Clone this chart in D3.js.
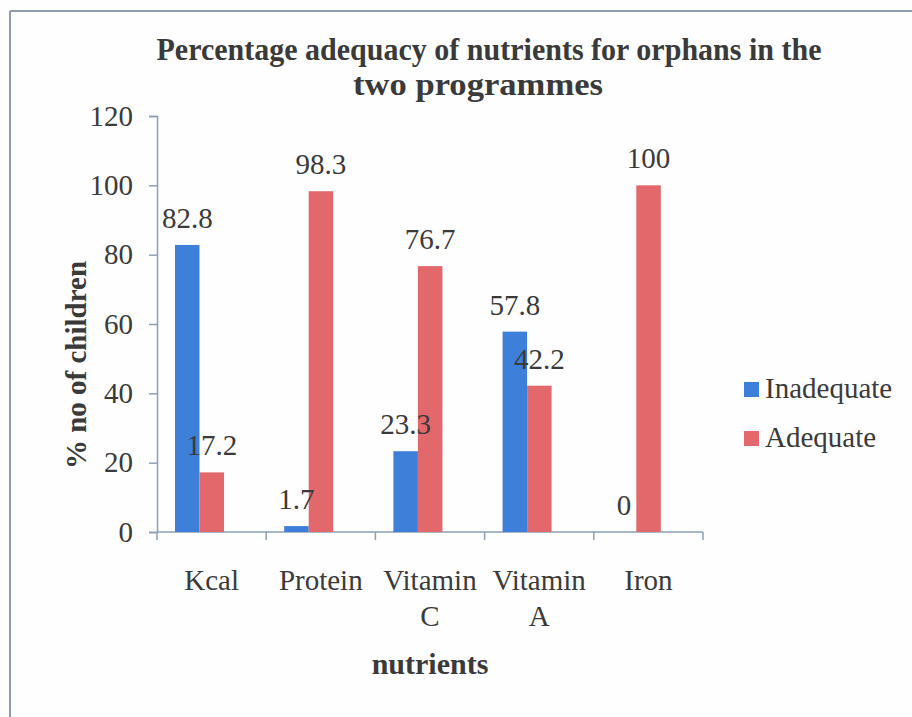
<!DOCTYPE html>
<html>
<head>
<meta charset="utf-8">
<script src="https://cdn.jsdelivr.net/npm/d3@7"></script>
<style>
  body { margin: 0; background: #fefefe; }
</style>
</head>
<body>
<svg id="chart"></svg>
<script>
var width = 912;
var height = 717;
var margin = {left: 157, right: 209, top: 116, bottom: 185};
var fontFam = "'Liberation Serif', 'Times New Roman', Tinos, 'DejaVu Serif', serif";

// data
var nutrients = [["Kcal"], ["Protein"], ["Vitamin", "C"], ["Vitamin", "A"], ["Iron"]];
var seriesNames = ["Inadequate", "Adequate"];
var inadequate = [82.8, 1.7, 23.3, 57.8, 0];
var adequate = [17.2, 98.3, 76.7, 42.2, 100];
var yTicks = [0, 20, 40, 60, 80, 100, 120];
var colors = ["#3d7fd9", "#e3686c"];

var catKeys = nutrients.map(function (d) { return d.join(" "); });

var svg = d3.select("#chart").attr("width", width).attr("height", height)
    .style("font-family", fontFam);

// scanned frame: top and left edge only
svg.append("line").attr("x1", 10).attr("x2", width).attr("y1", 11).attr("y2", 11)
    .attr("stroke", "#8f9aab").attr("stroke-width", 2);
svg.append("line").attr("x1", 10).attr("x2", 10).attr("y1", 11).attr("y2", height)
    .attr("stroke", "#8f9aab").attr("stroke-width", 2);

var plotW = width - margin.left - margin.right;
var plotH = height - margin.top - margin.bottom;

var x0 = d3.scaleBand().domain(catKeys).range([0, plotW]);
// bar pairs sit a bit left of the band centre in the original
var x1 = d3.scaleBand().domain(seriesNames).range([18, 67]);
var y = d3.scaleLinear().domain([0, 120]).range([plotH, 0]);

var g = svg.append("g").attr("transform", "translate(" + margin.left + "," + margin.top + ")");

var axisColor = "#8d9fb8";
var textColor = "#3a3a3a";

// y axis
var yAxis = d3.axisLeft(y).tickValues(yTicks).tickSize(8).tickPadding(16);
var ya = g.append("g").call(yAxis).attr("font-family", fontFam);
ya.select(".domain").attr("stroke", axisColor).attr("stroke-width", 1.5);
ya.selectAll(".tick line").attr("stroke", axisColor).attr("stroke-width", 1.5);
ya.selectAll(".tick text").style("font-size", "29px").style("font-family", fontFam).attr("fill", textColor);

// x axis: ticks at band edges
var xa = g.append("g").attr("transform", "translate(0," + plotH + ")");
xa.append("line").attr("x1", 0).attr("x2", plotW).attr("stroke", axisColor).attr("stroke-width", 1.5);
var edges = d3.range(catKeys.length + 1).map(function (i) { return i * x0.step(); });
xa.selectAll("line.tk").data(edges).enter().append("line").attr("class", "tk")
    .attr("x1", function (d) { return d; }).attr("x2", function (d) { return d; })
    .attr("y1", 0).attr("y2", 8).attr("stroke", axisColor).attr("stroke-width", 1.5);

var xLabels = xa.selectAll("text.cat").data(nutrients).enter().append("text").attr("class", "cat")
    .attr("text-anchor", "middle")
    .attr("fill", textColor)
    .style("font-size", "29px")
    .attr("transform", function (d, i) { return "translate(" + (x0(catKeys[i]) + x0.bandwidth() / 2) + ",58)"; });
xLabels.selectAll("tspan").data(function (d) { return d; }).enter().append("tspan")
    .attr("x", 0).attr("dy", function (d, i) { return i === 0 ? 0 : 36; })
    .text(function (d) { return d; });

// bars
var rows = catKeys.map(function (k, i) {
    return {cat: k, vals: [
        {s: seriesNames[0], v: inadequate[i]},
        {s: seriesNames[1], v: adequate[i]}
    ]};
});

var groups = g.selectAll("g.cat").data(rows).enter().append("g").attr("class", "cat")
    .attr("transform", function (d) { return "translate(" + x0(d.cat) + ",0)"; });

groups.selectAll("rect").data(function (d) { return d.vals; }).enter().append("rect")
    .attr("x", function (d) { return x1(d.s); })
    .attr("width", x1.bandwidth())
    .attr("y", function (d) { return y(d.v); })
    .attr("height", function (d) { return plotH - y(d.v); })
    .attr("fill", function (d, i) { return colors[i]; });

groups.selectAll("text.val").data(function (d) { return d.vals; }).enter().append("text").attr("class", "val")
    .attr("x", function (d) { return x1(d.s) + x1.bandwidth() / 2; })
    .attr("y", function (d) { return y(d.v) - 17; })
    .attr("text-anchor", "middle")
    .attr("fill", textColor)
    .style("font-size", "29px")
    .text(function (d) { return d.v; });

// title
svg.append("text").attr("x", 489).attr("y", 60).attr("text-anchor", "middle")
    .attr("textLength", 665).attr("lengthAdjust", "spacingAndGlyphs")
    .attr("fill", textColor)
    .style("font-size", "31px").style("font-weight", "bold")
    .text("Percentage adequacy of nutrients for orphans in the");
svg.append("text").attr("x", 478).attr("y", 95).attr("text-anchor", "middle")
    .attr("textLength", 250).attr("lengthAdjust", "spacingAndGlyphs")
    .attr("fill", textColor)
    .style("font-size", "31px").style("font-weight", "bold")
    .text("two programmes");

// axis titles
svg.append("text").attr("transform", "translate(86,365) rotate(-90)").attr("text-anchor", "middle")
    .attr("fill", textColor)
    .style("font-size", "29px").style("font-weight", "bold")
    .text("% no of children");
svg.append("text").attr("x", 430).attr("y", 674).attr("text-anchor", "middle")
    .attr("fill", textColor)
    .style("font-size", "30px").style("font-weight", "bold")
    .text("nutrients");

// legend
var legend = svg.append("g").attr("transform", "translate(744,382)");
var li = legend.selectAll("g").data(seriesNames).enter().append("g")
    .attr("transform", function (d, i) { return "translate(0," + i * 49 + ")"; });
li.append("rect").attr("width", 15).attr("height", 15).attr("fill", function (d, i) { return colors[i]; });
li.append("text").attr("x", 21).attr("y", 16).attr("fill", textColor)
    .style("font-size", "29px").text(function (d) { return d; });
</script>
</body>
</html>
